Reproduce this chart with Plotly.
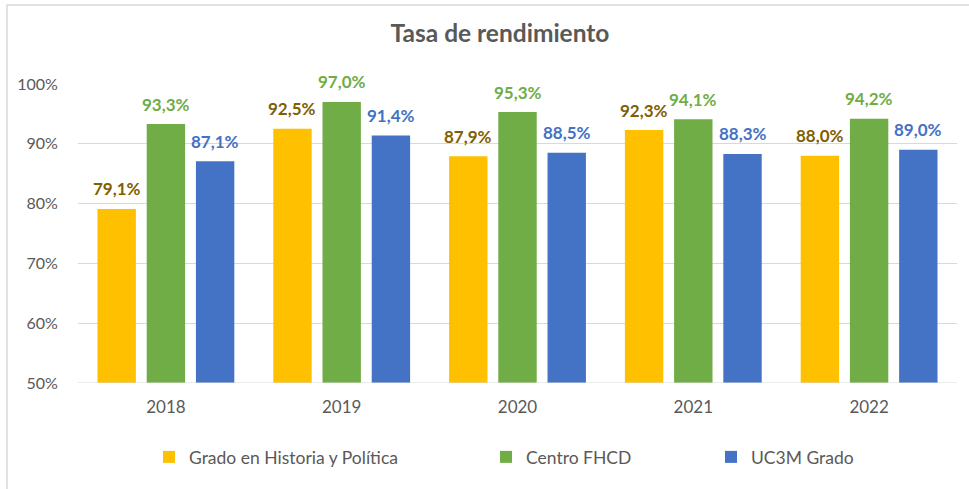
import plotly.graph_objects as go

years = ["2018", "2019", "2020", "2021", "2022"]
grado = [79.1, 92.5, 87.9, 92.3, 88.0]
centro = [93.3, 97.0, 95.3, 94.1, 94.2]
uc3m = [87.1, 91.4, 88.5, 88.3, 89.0]

series = [
    ("Grado en Historia y Política", grado, "#FFC000", "#7F6000"),
    ("Centro FHCD", centro, "#70AD47", "#70AD47"),
    ("UC3M Grado", uc3m, "#4472C4", "#4472C4"),
]

FONT = "Lato"
W, H = 969, 489
L, R, T, B = 78, 12, 84, 106
PW, PH = W - L - R, H - T - B
slot = PW / len(years) * (1 - 0.16) / 3  # pixel width of one bar slot

fig = go.Figure()
legends = ["legend", "legend2", "legend3"]
annotations = []
for i, (name, vals, col, lcol) in enumerate(series):
    fig.add_trace(go.Bar(
        x=years, y=[v / 100 for v in vals], name=name,
        marker=dict(color=col, line=dict(width=0)),
        legend=legends[i], hoverinfo="skip",
    ))
    for j, v in enumerate(vals):
        annotations.append(dict(
            x=j, y=v / 100, xref="x", yref="y",
            text=f"{v:.1f}%".replace(".", ","),
            showarrow=False, xanchor="center", yanchor="middle",
            xshift=(i - 1) * slot, yshift=20,
            font=dict(family=FONT, size=17, color=lcol, weight="bold"),
        ))

def px_x(px):
    return (px - L) / PW

def px_y(py):
    return (H - B - py) / PH

leg_common = dict(orientation="h", yanchor="middle", y=px_y(457), xanchor="left",
                  font=dict(size=17.5, color="#595959", family=FONT),
                  itemwidth=30, bgcolor="rgba(0,0,0,0)", borderwidth=0)

fig.update_layout(
    width=W, height=H,
    margin=dict(l=L, r=R, t=T, b=B, autoexpand=False),
    paper_bgcolor="white", plot_bgcolor="white",
    font=dict(family=FONT, size=17, color="#595959"),
    title=dict(text="<b>Tasa de rendimiento</b>", x=500 / W, xanchor="center", xref="container",
               y=1 - 33 / H, yanchor="middle", yref="container",
               font=dict(size=24.5, color="#595959", family=FONT)),
    barmode="group", bargap=0.16, bargroupgap=0.22,
    showlegend=True,
    legend=dict(leg_common, x=px_x(149)),
    legend2=dict(leg_common, x=px_x(486)),
    legend3=dict(leg_common, x=px_x(711)),
    xaxis=dict(type="category", range=[-0.5, len(years) - 0.5], showgrid=False,
               showline=False, ticks="outside", ticklen=9,
               tickcolor="rgba(0,0,0,0)", automargin=False,
               tickfont=dict(size=17, color="#595959")),
    yaxis=dict(range=[0.5, 1.0], dtick=0.1, tickformat=".0%", showgrid=True,
               gridcolor="#D9D9D9", gridwidth=1, zeroline=False, showline=False,
               ticks="outside", ticklen=16, tickcolor="rgba(0,0,0,0)", automargin=False,
               tickfont=dict(size=16, color="#595959")),
    annotations=annotations,
    shapes=[
        dict(type="line", xref="paper", yref="y", x0=0, x1=1, y0=0.5, y1=0.5,
             line=dict(color="#D9D9D9", width=1)),
        dict(type="rect", xref="paper", yref="paper",
             x0=px_x(7), x1=px_x(990), y0=px_y(510), y1=px_y(5),
             line=dict(color="#D9D9D9", width=1.5), fillcolor="rgba(0,0,0,0)", layer="below"),
    ],
)

fig.write_html("out.html", config={"displayModeBar": False},
               post_script="document.body.style.margin='0';")
